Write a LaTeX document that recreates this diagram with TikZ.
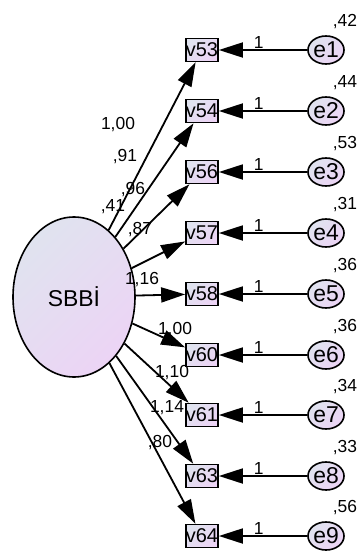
\documentclass[tikz,border=0pt]{standalone}
\usepackage{fontspec}
\setmainfont{Liberation Sans}
\usetikzlibrary{arrows.meta,shapes}
\definecolor{gtop}{RGB}{224,227,239}
\definecolor{gbot}{RGB}{236,212,245}

\begin{document}
\begin{tikzpicture}[
  lat/.style={draw,ellipse,line width=1.6bp,minimum width=122bp,minimum height=160bp,inner sep=0pt,top color=gtop,bottom color=gbot,shading angle=45,font=\fontsize{23}{23}\selectfont},
  obs/.style={draw,rectangle,line width=1.6bp,minimum width=31bp,minimum height=23bp,inner sep=0pt,top color=gtop,bottom color=gbot,shading angle=45,font=\fontsize{20}{20}\selectfont},
  err/.style={draw,ellipse,line width=1.6bp,minimum width=36bp,minimum height=28bp,inner sep=0pt,top color=gtop,bottom color=gbot,shading angle=45,font=\fontsize{23}{23}\selectfont},
  num/.style={font=\fontsize{17.5}{17.5}\selectfont,inner sep=1bp},
  var/.style={num,xshift=19bp,yshift=5bp},
  arr/.style={-{Triangle[length=24bp,width=15bp]},line width=1.8bp}
]
\useasboundingbox (0bp,0bp) rectangle (359bp,-556bp);

\node (SBBI) at (74bp,-297bp)[lat,label={[num,xshift=39bp,yshift=1bp]above:,41}] {SBBİ};

\node (v53) at (202bp,-50bp)[obs] {v53};
\node (v54) at (202bp,-111bp)[obs] {v54};
\node (v56) at (202bp,-172bp)[obs] {v56};
\node (v57) at (202bp,-233bp)[obs] {v57};
\node (v58) at (202bp,-294bp)[obs] {v58};
\node (v60) at (202bp,-355bp)[obs] {v60};
\node (v61) at (202bp,-415bp)[obs] {v61};
\node (v63) at (202bp,-476bp)[obs] {v63};
\node (v64) at (202bp,-536bp)[obs] {v64};

\node (e1) at (326bp,-50bp)[err,label={[var]above:,42}] {e1};
\node (e2) at (326bp,-111bp)[err,label={[var]above:,44}] {e2};
\node (e3) at (326bp,-172bp)[err,label={[var]above:,53}] {e3};
\node (e4) at (326bp,-233bp)[err,label={[var]above:,31}] {e4};
\node (e5) at (326bp,-294bp)[err,label={[var]above:,36}] {e5};
\node (e6) at (326bp,-355bp)[err,label={[var]above:,36}] {e6};
\node (e7) at (326bp,-415bp)[err,label={[var]above:,34}] {e7};
\node (e8) at (326bp,-476bp)[err,label={[var]above:,33}] {e8};
\node (e9) at (326bp,-536bp)[err,label={[var]above:,56}] {e9};

% loadings
\node (w53) at (118bp,-125bp)[num] {1,00};
\node (w54) at (125bp,-157bp)[num] {,91};
\node (w56) at (133bp,-190bp)[num] {,96};
\node (w57) at (140bp,-230bp)[num] {,87};
\node (w58) at (142bp,-280bp)[num] {1,16};
\node (w60) at (175bp,-330bp)[num] {1,00};
\node (w61) at (172bp,-373bp)[num] {1,10};
\node (w63) at (167bp,-408bp)[num] {1,14};
\node (w64) at (160bp,-443bp)[num] {,80};

\draw [arr] (SBBI) to (v53);
\draw [arr] (SBBI) to (v54);
\draw [arr] (SBBI) to (v56);
\draw [arr] (SBBI) to (v57);
\draw [arr] (SBBI) to (v58);
\draw [arr] (SBBI) to (v60);
\draw [arr] (SBBI) to (v61);
\draw [arr] (SBBI) to (v63);
\draw [arr] (SBBI) to (v64);

\draw [arr] (e1) to node[pos=0.55,above,num] {1} (v53);
\draw [arr] (e2) to node[pos=0.55,above,num] {1} (v54);
\draw [arr] (e3) to node[pos=0.55,above,num] {1} (v56);
\draw [arr] (e4) to node[pos=0.55,above,num] {1} (v57);
\draw [arr] (e5) to node[pos=0.55,above,num] {1} (v58);
\draw [arr] (e6) to node[pos=0.55,above,num] {1} (v60);
\draw [arr] (e7) to node[pos=0.55,above,num] {1} (v61);
\draw [arr] (e8) to node[pos=0.55,above,num] {1} (v63);
\draw [arr] (e9) to node[pos=0.55,above,num] {1} (v64);
\end{tikzpicture}
\end{document}
